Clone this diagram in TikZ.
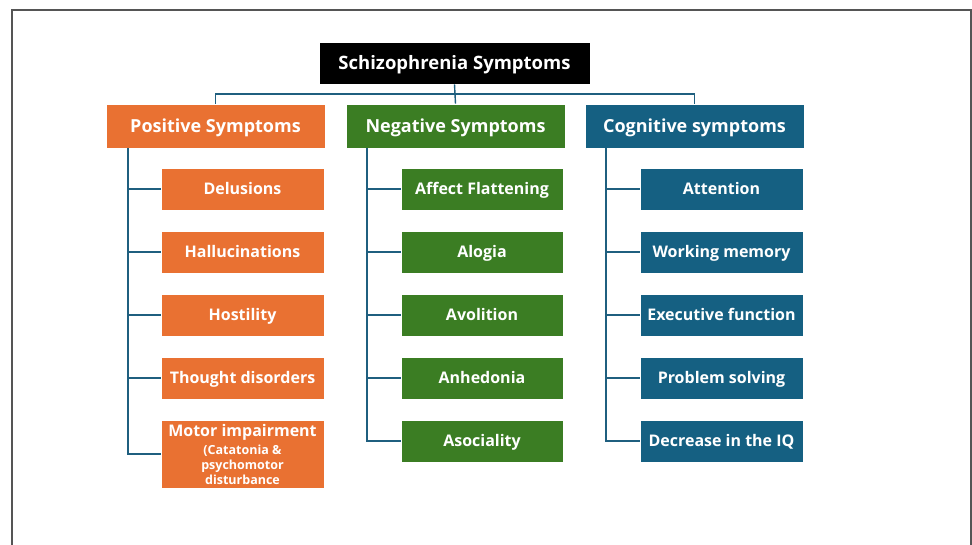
\documentclass[tikz,border=0pt]{standalone}
\usepackage{fontspec}
\setmainfont{Open Sans}
\definecolor{porange}{HTML}{E97132}
\definecolor{pgreen}{HTML}{3B7D23}
\definecolor{pblue}{HTML}{156082}
\definecolor{pline}{HTML}{1F5F7F}
\definecolor{pframe}{HTML}{555555}
\newcommand{\subtxt}{\fontsize{12.5}{14}\selectfont}
\tikzset{
  boxbase/.style={draw=white, line width=0.6pt, text=white, align=center, inner sep=0pt},
  rootbox/.style={boxbase, fill=black, minimum width=271pt, minimum height=42pt, text height=15pt, text depth=2pt, font=\fontsize{18.5}{21}\selectfont\bfseries},
  headbox/.style={boxbase, minimum width=219pt, minimum height=44pt, text height=15pt, text depth=2pt, font=\fontsize{18}{21}\selectfont\bfseries},
  itembox/.style={boxbase, minimum width=163pt, minimum height=42pt, font=\fontsize{16}{19}\selectfont\bfseries},
  oneline/.style={text height=13pt, text depth=2.5pt},
  conn/.style={draw=pline, line width=1.4pt},
}
\begin{document}
\begin{tikzpicture}[x=1pt,y=-1pt]
\useasboundingbox (0,0) rectangle (972,544);
\draw[pframe, line width=2pt] (12,546) -- (12,10) -- (971,10) -- (971,546);
\node[rootbox] (root) at (454.5,63) {Schizophrenia Symptoms};
\node[headbox, fill=porange] (pos) at (215.5,126) {Positive Symptoms};
\node[headbox, fill=pgreen] (neg) at (455.5,126) {Negative Symptoms};
\node[headbox, fill=pblue] (cog) at (694.5,126) {Cognitive symptoms};
% positive items
\node[itembox, oneline, fill=porange] (p1) at (242.5,189) {Delusions};
\node[itembox, oneline, fill=porange] (p2) at (242.5,252) {Hallucinations};
\node[itembox, oneline, fill=porange] (p3) at (242.5,315) {Hostility};
\node[itembox, oneline, fill=porange] (p4) at (242.5,378) {Thought disorders};
\node[itembox, fill=porange, minimum height=68pt] (p5) at (242.5,454) {Motor impairment\\[-1pt]{\subtxt (Catatonia \&}\\[-4pt]{\subtxt psychomotor}\\[-4pt]{\subtxt disturbance}};
% negative items
\node[itembox, oneline, fill=pgreen, minimum width=162pt] (n1) at (482,189) {Affect Flattening};
\node[itembox, oneline, fill=pgreen, minimum width=162pt] (n2) at (482,252) {Alogia};
\node[itembox, oneline, fill=pgreen, minimum width=162pt] (n3) at (482,315) {Avolition};
\node[itembox, oneline, fill=pgreen, minimum width=162pt] (n4) at (482,378) {Anhedonia};
\node[itembox, oneline, fill=pgreen, minimum width=162pt] (n5) at (482,441) {Asociality};
% cognitive items
\node[itembox, oneline, fill=pblue] (c1) at (721.5,189) {Attention};
\node[itembox, oneline, fill=pblue] (c2) at (721.5,252) {Working memory};
\node[itembox, oneline, fill=pblue] (c3) at (721.5,315) {Executive function};
\node[itembox, oneline, fill=pblue] (c4) at (721.5,378) {Problem solving};
\node[itembox, oneline, fill=pblue] (c5) at (721.5,441) {Decrease in the IQ};
% top connectors
\coordinate (bus) at (455,94);
\draw[conn] (root.south) -- (neg.north);
\draw[conn] (pos.north) |- (bus) -| (cog.north);
% spines
\coordinate (ps) at (128,148);
\coordinate (ns) at (367,148);
\coordinate (cs) at (606,148);
\draw[conn] (ps) |- (p5.west);
\foreach \i in {1,2,3,4} \draw[conn] (ps |- p\i.west) -- (p\i.west);
\draw[conn] (ns) |- (n5.west);
\foreach \i in {1,2,3,4} \draw[conn] (ns |- n\i.west) -- (n\i.west);
\draw[conn] (cs) |- (c5.west);
\foreach \i in {1,2,3,4} \draw[conn] (cs |- c\i.west) -- (c\i.west);
\end{tikzpicture}
\end{document}
